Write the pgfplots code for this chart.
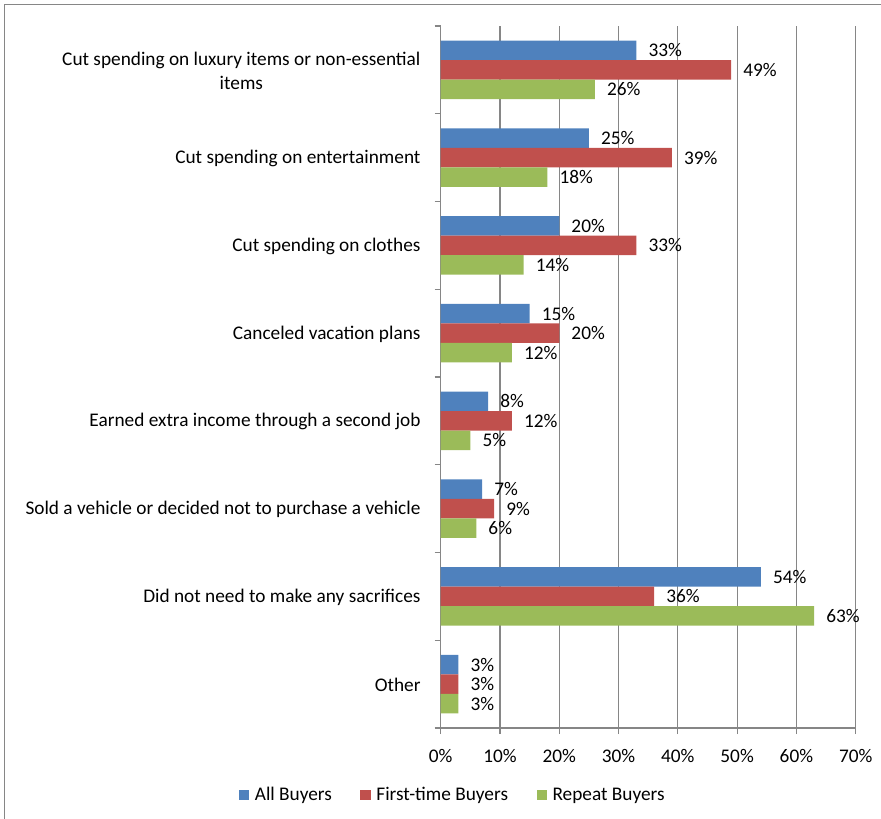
\documentclass[border=0pt]{standalone}
\usepackage{pgfplots}
\pgfplotsset{compat=1.18}
\usepackage{fontspec}
\setmainfont{Carlito}
\definecolor{cblue}{RGB}{79,129,189}
\definecolor{cred}{RGB}{192,80,77}
\definecolor{cgreen}{RGB}{155,187,89}
\definecolor{gridgray}{RGB}{134,134,134}
\newcommand\cf{\fontsize{19.3bp}{24.5bp}\selectfont}

\begin{document}
\begin{tikzpicture}
\begin{axis}[
  scale only axis, width=415bp, height=702bp,
  xbar=0pt, bar width=19.5bp,
  y dir=reverse,
  xmin=0, xmax=70, ymin=-0.5, ymax=7.5,
  axis x line*=bottom, axis y line*=left,
  axis line style={-, draw=gridgray, line width=1.2bp},
  xtick={0,10,...,70},
  xticklabels={0\%,10\%,20\%,30\%,40\%,50\%,60\%,70\%},
  tick align=outside, major tick length=6bp,
  tick style={draw=gridgray, line width=1.2bp},
  xmajorgrids, grid style={draw=gridgray, line width=1.2bp},
  ytick={0,...,7},
  ytick style={draw=none},
  yticklabels={
    {Cut spending on luxury items or non-essential\\items},
    {Cut spending on entertainment},
    {Cut spending on clothes},
    {Canceled vacation plans},
    {Earned extra income through a second job},
    {Sold a vehicle or decided not to purchase a vehicle},
    {Did not need to make any sacrifices},
    {Other}},
  yticklabel style={font=\cf, align=center, inner sep=0pt, xshift=-14bp, yshift=-1bp},
  xticklabel style={font=\cf, inner sep=0pt, yshift=-15bp},
  extra y ticks={-0.5,0.5,...,7.5},
  extra y tick labels={},
  extra y tick style={ytick style={draw=gridgray}, major tick length=6bp},
  /pgf/number format/assume math mode=true,
  nodes near coords={\pgfmathprintnumber{\pgfplotspointmeta}\%},
  nodes near coords align=horizontal,
  every node near coord/.append style={font=\cf, anchor=west, inner sep=0pt, xshift=12bp, text=black},
  legend columns=-1,
  legend style={at={(0.0296,-0.0953)}, anchor=center, draw=none, font=\cf,
    /tikz/every odd column/.append style={column sep=3bp},
    /tikz/every even column/.append style={column sep=26bp},
    nodes={inner sep=2.5bp}},
  legend image code/.code={\fill[#1] (0bp,-5bp) rectangle (10.5bp,5bp);},
]
\addplot[fill=cblue, draw=none, bar shift=19.5bp] coordinates {
  (33,0) (25,1) (20,2) (15,3) (8,4) (7,5) (54,6) (3,7)};
\addplot[fill=cred, draw=none, bar shift=0bp] coordinates {
  (49,0) (39,1) (33,2) (20,3) (12,4) (9,5) (36,6) (3,7)};
\addplot[fill=cgreen, draw=none, bar shift=-19.5bp] coordinates {
  (26,0) (18,1) (14,2) (12,3) (5,4) (6,5) (63,6) (3,7)};
\legend{All Buyers, First-time Buyers, Repeat Buyers}
\end{axis}
\draw[gridgray, line width=1.5bp] (-436.2bp,-120bp) -- (-436.2bp,723.5bp) -- (500bp,723.5bp);
\pgfresetboundingbox
\path[use as bounding box] (-440.7bp,-91bp) rectangle (440.3bp,728bp);
\end{tikzpicture}
\end{document}
